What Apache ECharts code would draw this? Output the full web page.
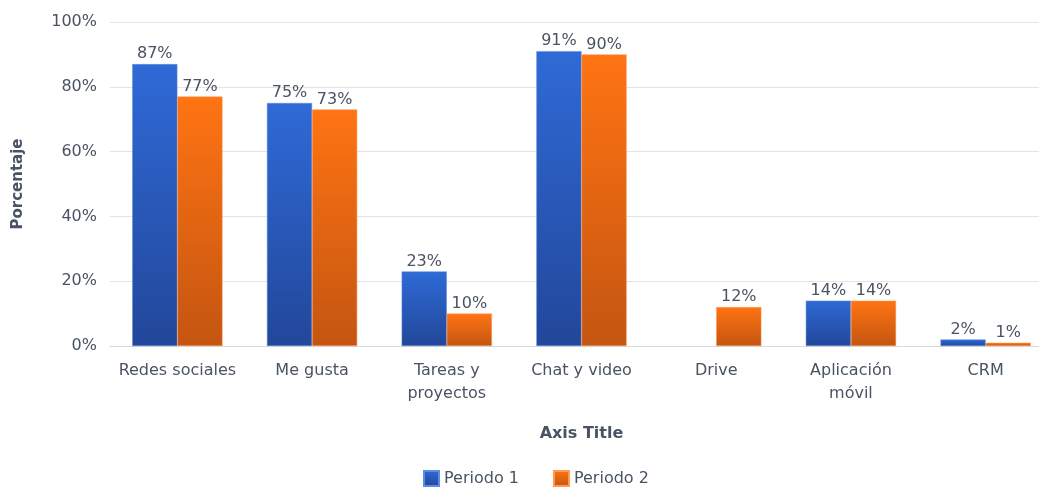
<!DOCTYPE html>
<html>
<head>
<meta charset="utf-8">
<script src="https://cdn.jsdelivr.net/npm/echarts@6/dist/echarts.min.js"></script>
<style>
  html, body { margin: 0; padding: 0; background: #fff; overflow: hidden; }
  #main { width: 1054px; height: 488px; }
</style>
</head>
<body>
<div id="main"></div>
<script>
var categories = ['Redes sociales', 'Me gusta', 'Tareas y\nproyectos', 'Chat y video', 'Drive', 'Aplicación\nmóvil', 'CRM'];
var periodo1 = [87, 75, 23, 91, 0, 14, 2];
var periodo2 = [77, 73, 10, 90, 12, 14, 1];
var yTicks = [0, 20, 40, 60, 80, 100];

var myChart = echarts.init(document.getElementById('main'));

var FONT = 'DejaVu Sans';
var TXT = '#4a5363';

function grad(top, bottom) {
  return new echarts.graphic.LinearGradient(0, 0, 0, 1, [
    { offset: 0, color: top },
    { offset: 1, color: bottom }
  ]);
}

// zero values are not drawn in the original
function noZero(arr) {
  return arr.map(function (v) { return v === 0 ? '-' : v; });
}

var labelStyle = {
  show: true,
  position: 'top',
  distance: 2,
  color: TXT,
  fontSize: 16,
  fontFamily: FONT,
  formatter: '{c}%'
};

var option = {
  textStyle: { fontFamily: FONT },
  animation: false,
  legend: {
    data: ['Periodo 1', 'Periodo 2'],
    top: 465,
    left: 418,
    itemWidth: 15,
    itemHeight: 15,
    itemGap: 34,
    icon: 'rect',
    textStyle: { color: TXT, fontSize: 16, fontFamily: FONT }
  },
  grid: {
    left: 110,
    top: 22,
    width: 943,
    height: 324
  },
  xAxis: {
    type: 'category',
    data: categories,
    name: 'Axis Title',
    nameLocation: 'middle',
    nameGap: 80,
    nameTextStyle: { fontWeight: 'bold', fontSize: 16, color: TXT, fontFamily: FONT },
    axisLine: { lineStyle: { color: '#d9d9d9' } },
    axisTick: { show: false },
    axisLabel: { color: TXT, fontSize: 16, lineHeight: 23, margin: 13, interval: 0, fontFamily: FONT }
  },
  yAxis: {
    type: 'value',
    min: 0,
    max: 100,
    interval: 20,
    name: 'Porcentaje',
    nameLocation: 'middle',
    nameGap: 84,
    nameRotate: 90,
    nameTextStyle: { fontWeight: 'bold', fontSize: 15, color: TXT, fontFamily: FONT },
    axisLine: { show: false },
    axisTick: { show: false },
    axisLabel: {
      color: TXT,
      fontSize: 16,
      margin: 13,
      fontFamily: FONT,
      formatter: function (v) { return yTicks.indexOf(v) >= 0 ? v + '%' : ''; }
    },
    splitLine: { lineStyle: { color: '#e4e4e4' } }
  },
  series: [
    {
      name: 'Periodo 1',
      type: 'bar',
      data: noZero(periodo1),
      barGap: '0%',
      barCategoryGap: '33%',
      itemStyle: { color: grad('#2f6ad6', '#22479a'), borderColor: '#5d8de0', borderWidth: 0.5 },
      label: labelStyle
    },
    {
      name: 'Periodo 2',
      type: 'bar',
      data: noZero(periodo2),
      itemStyle: { color: grad('#ff7413', '#c45511'), borderColor: '#ff9a55', borderWidth: 0.5 },
      label: labelStyle
    }
  ]
};

myChart.setOption(option);
</script>
</body>
</html>
